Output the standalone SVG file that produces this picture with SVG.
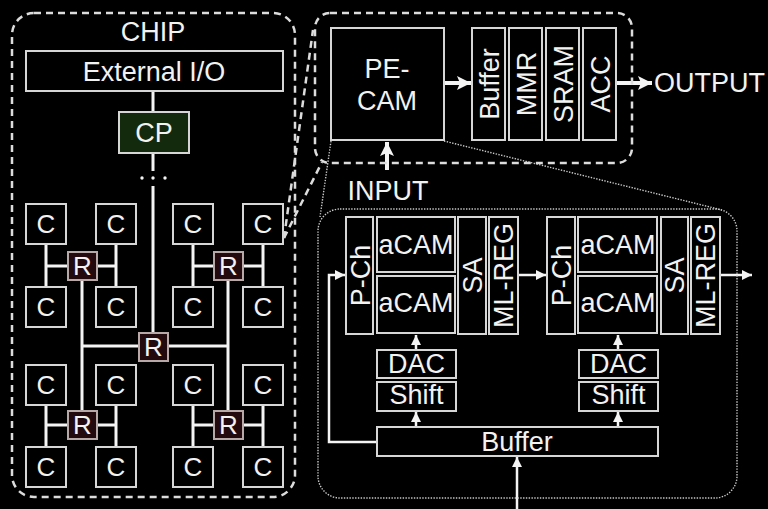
<svg xmlns="http://www.w3.org/2000/svg" width="768" height="509" viewBox="0 0 768 509">
<defs>
<style>
text{font-family:"Liberation Sans",Arial,sans-serif;fill:#f2f2f2;text-anchor:middle}
.t26{font-size:27px}
.t24{font-size:26px}
.box{fill:#000;stroke:#d6d6d6;stroke-width:2}
.dash{fill:none;stroke:#dcdcdc;stroke-width:2.5;stroke-dasharray:7 5}
.dot{fill:none;stroke:#c8c8c8;stroke-width:1.4;stroke-dasharray:1.4 1.4}
.wire{stroke:#f4f4f4;stroke-width:3;fill:none}
.arr{stroke:#f4f4f4;stroke-width:2.5;fill:none}
.big{stroke:#f4f4f4;stroke-width:4;fill:none}
.r{fill:#220a0e;stroke:#b8a8a8;stroke-width:2}
</style>
<marker id="ah" markerUnits="userSpaceOnUse" markerWidth="12" markerHeight="12" refX="10" refY="5" orient="auto"><path d="M0,0 L10,5 L0,10 Z" fill="#f4f4f4"/></marker>
<marker id="ahb" markerUnits="userSpaceOnUse" markerWidth="16" markerHeight="16" refX="14" refY="7" orient="auto"><path d="M0,0 L14,7 L0,14 L3,7 Z" fill="#f4f4f4"/></marker>
</defs>
<rect width="768" height="509" fill="#000"/>

<g id="connectors">
<line class="wire" x1="153" y1="91" x2="153" y2="112"/>
<line class="wire" x1="153" y1="153" x2="153" y2="171"/>
<circle cx="142" cy="178" r="1.7" fill="#f4f4f4"/><circle cx="153" cy="178" r="1.7" fill="#f4f4f4"/><circle cx="165" cy="178" r="1.7" fill="#f4f4f4"/>
<line class="wire" x1="153" y1="186" x2="153" y2="334"/>
<path class="wire" d="M46,244V287M116,244V287M46,266H116"/>
<path class="wire" d="M193,244V287M263,244V287M193,266H263"/>
<path class="wire" d="M46,404V447M116,404V447M46,425H116"/>
<path class="wire" d="M193,404V447M263,404V447M193,425H263"/>
<path class="wire" d="M82,280V411M228,280V411M82,346H228"/>
<line class="dash" x1="284" y1="238" x2="313" y2="30"/>
<line class="dash" x1="284" y1="238" x2="322" y2="162"/>
<line class="dot" x1="331" y1="141" x2="320" y2="217"/>
<line class="dot" x1="444" y1="141" x2="722" y2="210"/>
<line class="big" x1="444" y1="83" x2="471" y2="83" marker-end="url(#ahb)"/>
<line class="big" x1="616" y1="83" x2="652" y2="83" marker-end="url(#ahb)"/>
<line class="big" x1="387" y1="170" x2="387" y2="142" marker-end="url(#ahb)"/>
<line class="arr" x1="518" y1="275" x2="546" y2="275" marker-end="url(#ah)"/>
<line class="arr" x1="720" y1="275" x2="752" y2="275" marker-end="url(#ah)"/>
<polyline class="arr" points="377,442 329,442 329,275 345,275" marker-end="url(#ah)"/>
<line class="arr" x1="416" y1="350" x2="416" y2="335" marker-end="url(#ah)"/>
<line class="arr" x1="416" y1="427" x2="416" y2="412" marker-end="url(#ah)"/>
<line class="arr" x1="618" y1="350" x2="618" y2="335" marker-end="url(#ah)"/>
<line class="arr" x1="618" y1="427" x2="618" y2="412" marker-end="url(#ah)"/>
<line class="arr" x1="517" y1="509" x2="517" y2="457" marker-end="url(#ah)"/>
</g>

<g id="chip"><rect class="dash" x="12" y="13" width="283" height="484" rx="22"/><text class="t26" x="153" y="41">CHIP</text></g>
<g id="extio"><rect class="box" x="26" y="51" width="257" height="40"/><text class="t26" x="154" y="81">External I/O</text></g>
<g id="cp"><rect x="119" y="112" width="70" height="41" fill="#142a0c" stroke="#d6d6d6" stroke-width="2"/><text class="t26" x="154" y="142">CP</text></g>

<g id="c11"><rect class="box" x="26" y="204" width="40" height="40"/><text class="t24" x="46" y="233">C</text></g>
<g id="c12"><rect class="box" x="96" y="204" width="40" height="40"/><text class="t24" x="116" y="233">C</text></g>
<g id="c13"><rect class="box" x="173" y="204" width="40" height="40"/><text class="t24" x="193" y="233">C</text></g>
<g id="c14"><rect class="box" x="243" y="204" width="40" height="40"/><text class="t24" x="263" y="233">C</text></g>
<g id="c21"><rect class="box" x="26" y="287" width="40" height="40"/><text class="t24" x="46" y="316">C</text></g>
<g id="c22"><rect class="box" x="96" y="287" width="40" height="40"/><text class="t24" x="116" y="316">C</text></g>
<g id="c23"><rect class="box" x="173" y="287" width="40" height="40"/><text class="t24" x="193" y="316">C</text></g>
<g id="c24"><rect class="box" x="243" y="287" width="40" height="40"/><text class="t24" x="263" y="316">C</text></g>
<g id="c31"><rect class="box" x="26" y="365" width="40" height="40"/><text class="t24" x="46" y="394">C</text></g>
<g id="c32"><rect class="box" x="96" y="365" width="40" height="40"/><text class="t24" x="116" y="394">C</text></g>
<g id="c33"><rect class="box" x="173" y="365" width="40" height="40"/><text class="t24" x="193" y="394">C</text></g>
<g id="c34"><rect class="box" x="243" y="365" width="40" height="40"/><text class="t24" x="263" y="394">C</text></g>
<g id="c41"><rect class="box" x="26" y="447" width="40" height="40"/><text class="t24" x="46" y="476">C</text></g>
<g id="c42"><rect class="box" x="96" y="447" width="40" height="40"/><text class="t24" x="116" y="476">C</text></g>
<g id="c43"><rect class="box" x="173" y="447" width="40" height="40"/><text class="t24" x="193" y="476">C</text></g>
<g id="c44"><rect class="box" x="243" y="447" width="40" height="40"/><text class="t24" x="263" y="476">C</text></g>

<g id="r1"><rect class="r" x="68" y="252" width="29" height="28"/><text class="t24" x="82.5" y="275">R</text></g>
<g id="r2"><rect class="r" x="214" y="252" width="29" height="28"/><text class="t24" x="228.5" y="275">R</text></g>
<g id="r0"><rect class="r" x="139" y="333" width="29" height="28"/><text class="t24" x="153.5" y="356">R</text></g>
<g id="r3"><rect class="r" x="68" y="411" width="29" height="28"/><text class="t24" x="82.5" y="434">R</text></g>
<g id="r4"><rect class="r" x="214" y="411" width="29" height="28"/><text class="t24" x="228.5" y="434">R</text></g>

<g id="tile"><rect class="dash" x="315" y="13" width="317" height="150" rx="15"/></g>
<g id="pecam"><rect class="box" x="331" y="28" width="113" height="112"/><text class="t26" x="387" y="78">PE-</text><text class="t26" x="387" y="110">CAM</text></g>
<g id="buf1"><rect class="box" x="472" y="28" width="33" height="112"/><text class="t26" transform="translate(489,84) rotate(-90)" y="9.5">Buffer</text></g>
<g id="mmr"><rect class="box" x="509" y="28" width="33" height="112"/><text class="t26" transform="translate(526,84) rotate(-90)" y="9.5">MMR</text></g>
<g id="sram"><rect class="box" x="546" y="28" width="33" height="112"/><text class="t26" transform="translate(563,84) rotate(-90)" y="9.5">SRAM</text></g>
<g id="acc"><rect class="box" x="583" y="28" width="33" height="112"/><text class="t26" transform="translate(600,84) rotate(-90)" y="9.5">ACC</text></g>
<g id="output"><text class="t26" x="654" y="92" style="text-anchor:start">OUTPUT</text></g>
<g id="input"><text class="t26" x="388" y="200">INPUT</text></g>

<g id="detail"><rect class="dot" x="318" y="209" width="419" height="289" rx="22"/></g>
<g id="pch1"><rect class="box" x="346" y="217" width="27" height="117"/><text class="t26" transform="translate(360,275.5) rotate(-90)" y="9.5">P-Ch</text></g>
<g id="acam1a"><rect class="box" x="377" y="217" width="78" height="55"/><text class="t26" x="416" y="254">aCAM</text></g>
<g id="acam1b"><rect class="box" x="377" y="276" width="78" height="57"/><text class="t26" x="416" y="312">aCAM</text></g>
<g id="sa1"><rect class="box" x="458" y="217" width="28" height="117"/><text class="t26" transform="translate(472,275.5) rotate(-90)" y="9.5">SA</text></g>
<g id="mlreg1"><rect class="box" x="489" y="217" width="29" height="117"/><text class="t26" transform="translate(503.5,275.5) rotate(-90)" y="9.5">ML-REG</text></g>
<g id="pch2"><rect class="box" x="547" y="217" width="28" height="117"/><text class="t26" transform="translate(561,275.5) rotate(-90)" y="9.5">P-Ch</text></g>
<g id="acam2a"><rect class="box" x="578" y="217" width="79" height="55"/><text class="t26" x="618" y="254">aCAM</text></g>
<g id="acam2b"><rect class="box" x="578" y="276" width="79" height="57"/><text class="t26" x="618" y="312">aCAM</text></g>
<g id="sa2"><rect class="box" x="661" y="217" width="27" height="117"/><text class="t26" transform="translate(674.5,275.5) rotate(-90)" y="9.5">SA</text></g>
<g id="mlreg2"><rect class="box" x="691" y="217" width="29" height="117"/><text class="t26" transform="translate(705.5,275.5) rotate(-90)" y="9.5">ML-REG</text></g>
<g id="dac1"><rect class="box" x="377" y="350" width="79" height="28"/><text class="t26" x="416.5" y="373">DAC</text></g>
<g id="shift1"><rect class="box" x="377" y="382" width="79" height="29"/><text class="t26" x="416.5" y="404">Shift</text></g>
<g id="dac2"><rect class="box" x="579" y="350" width="79" height="28"/><text class="t26" x="618.5" y="373">DAC</text></g>
<g id="shift2"><rect class="box" x="579" y="382" width="79" height="29"/><text class="t26" x="618.5" y="404">Shift</text></g>
<g id="buf2"><rect class="box" x="377" y="427" width="281" height="29"/><text class="t26" x="517" y="451">Buffer</text></g>
</svg>
